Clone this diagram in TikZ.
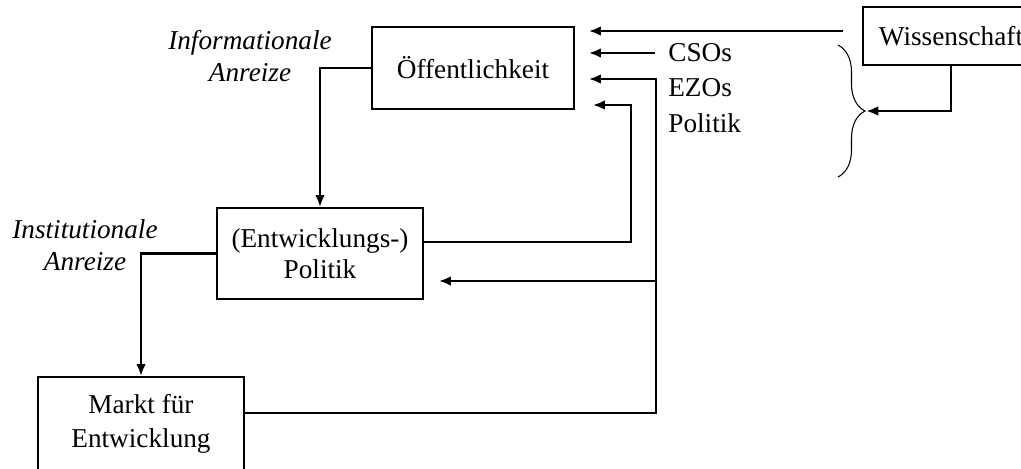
\documentclass[tikz,border=0pt]{standalone}
\usepackage{fontspec}
\setmainfont{Liberation Serif}
\usetikzlibrary{arrows.meta,decorations.pathreplacing}

\begin{document}
\begin{tikzpicture}[x=0.02cm,y=-0.02cm,>={Latex[length=7pt,width=5.5pt]},
    box/.style={draw,line width=0.8pt,align=center,inner sep=0pt,
      font=\fontsize{15.5}{18}\selectfont},
    flow/.style={->,line width=1.4pt},
    incentive/.style={align=center,inner sep=0pt,font=\fontsize{15.5}{18}\selectfont\itshape},
    actor/.style={anchor=west,inner sep=0pt,font=\fontsize{15.5}{18}\selectfont}]
  \useasboundingbox (0,0) rectangle (1021,468);

  % Boxes
  \node[box,minimum width=4.04cm,minimum height=1.64cm] (oeff) at (473,68) {Öffentlichkeit};
  \node[box,minimum width=4.12cm,minimum height=1.82cm] (entw) at (320,253.5) {(Entwicklungs-)\\Politik};
  \node[box,minimum width=4.12cm,minimum height=1.88cm,font=\fontsize{15.5}{19}\selectfont] (markt) at (141,424) {Markt für\\Entwicklung};
  \node[box,minimum width=3.52cm,minimum height=1.16cm] (wiss) at (951,36) {Wissenschaft};

  % Incentives
  \node[incentive] (info) at (250,56) {Informationale\\Anreize};
  \node[incentive] (inst) at (85,245) {Institutionale\\Anreize};

  % Actors
  \node[actor] (cso) at (668,53) {CSOs};
  \node[actor] (ezo) at (668,88) {EZOs};
  \node[actor] (pol) at (668,123) {Politik};

  % Helper points
  \coordinate (w1) at (863,31);
  \coordinate (bus) at (656,79);
  \coordinate (junc) at (656,281);
  \coordinate (loop) at (631,105);
  \coordinate (bracetip) at (866,111);

  % Brace around the actors
  \draw[line width=0.6pt,decorate,decoration={brace,amplitude=0.54cm}] (838,45) -- (838,177);

  % Connections
  \draw[flow] (oeff.west) -| (entw.north);
  \draw[flow] (entw.west) -| (markt.north);
  \draw[flow,shorten <=0.4cm,shorten >=0.28cm] (w1) -- (w1 -| oeff.east);
  \draw[flow,shorten <=0.26cm,shorten >=0.28cm] (cso.west) -- (cso.west -| oeff.east);
  \draw[flow,shorten >=0.28cm] ([yshift=0.22cm]markt.east) -| (bus) -- (bus -| oeff.east);
  \draw[flow,shorten >=0.3cm] (junc) -- (junc -| entw.east);
  \draw[flow,shorten >=0.36cm] ([yshift=0.23cm]entw.east) -| (loop) -- (loop -| oeff.east);
  \draw[flow] (wiss.south) |- (bracetip);
\end{tikzpicture}
\end{document}
